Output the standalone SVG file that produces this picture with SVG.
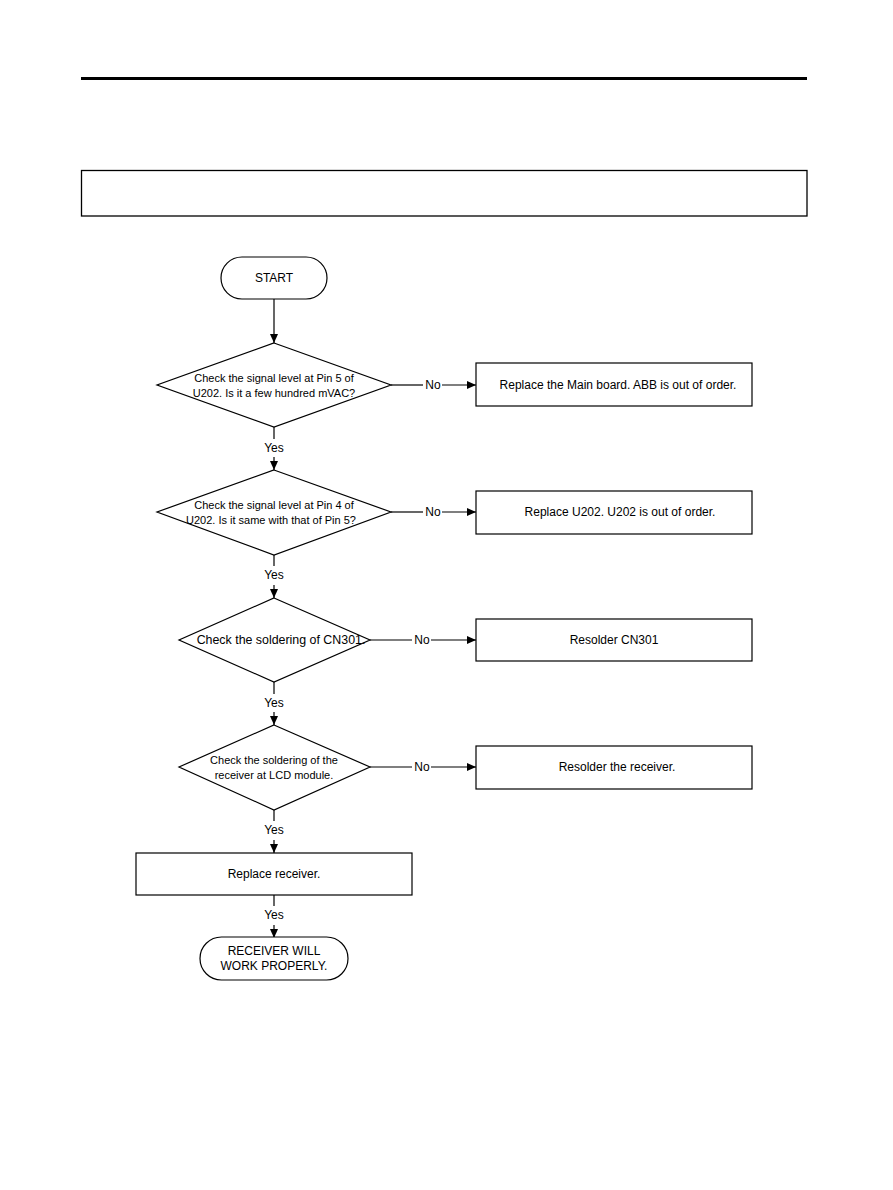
<svg xmlns="http://www.w3.org/2000/svg" width="893" height="1190" viewBox="0 0 893 1190">
<defs>
<style>
.s{fill:#fff;stroke:#000;stroke-width:1.2}
.c{fill:none;stroke:#000;stroke-width:1.2}
text{font-family:"Liberation Sans",Arial,sans-serif;fill:#000;text-anchor:middle}
.t{font-size:12px}
.d{font-size:11px}
.l{font-size:12px}
</style>
<marker id="a" markerWidth="10" markerHeight="10" refX="9" refY="5" orient="auto" markerUnits="userSpaceOnUse">
<path d="M0,1 L9,5 L0,9 Z" fill="#000"/>
</marker>
</defs>
<rect width="893" height="1190" fill="#fff"/>
<rect x="81" y="77" width="726" height="3" fill="#000"/>
<rect x="81.5" y="170.5" width="725.5" height="45.5" fill="none" stroke="#000" stroke-width="1.3"/>

<g id="connectors">
<line class="c" x1="274" y1="299" x2="274" y2="343" marker-end="url(#a)"/>
<line class="c" x1="391" y1="385" x2="423" y2="385"/>
<line class="c" x1="442" y1="385" x2="476" y2="385" marker-end="url(#a)"/>
<text class="l" x="433" y="389">No</text>
<line class="c" x1="274" y1="427" x2="274" y2="439"/>
<text class="l" x="274" y="452">Yes</text>
<line class="c" x1="274" y1="457" x2="274" y2="470" marker-end="url(#a)"/>

<line class="c" x1="391" y1="512" x2="423" y2="512"/>
<line class="c" x1="442" y1="512" x2="476" y2="512" marker-end="url(#a)"/>
<text class="l" x="433" y="516">No</text>
<line class="c" x1="274" y1="555" x2="274" y2="566"/>
<text class="l" x="274" y="579">Yes</text>
<line class="c" x1="274" y1="585" x2="274" y2="598" marker-end="url(#a)"/>

<line class="c" x1="370" y1="640" x2="412" y2="640"/>
<line class="c" x1="431" y1="640" x2="476" y2="640" marker-end="url(#a)"/>
<text class="l" x="422" y="644">No</text>
<line class="c" x1="274" y1="682" x2="274" y2="694"/>
<text class="l" x="274" y="707">Yes</text>
<line class="c" x1="274" y1="712" x2="274" y2="725" marker-end="url(#a)"/>

<line class="c" x1="370" y1="767" x2="412" y2="767"/>
<line class="c" x1="431" y1="767" x2="476" y2="767" marker-end="url(#a)"/>
<text class="l" x="422" y="771">No</text>
<line class="c" x1="274" y1="810" x2="274" y2="821"/>
<text class="l" x="274" y="834">Yes</text>
<line class="c" x1="274" y1="840" x2="274" y2="853" marker-end="url(#a)"/>

<line class="c" x1="274" y1="895" x2="274" y2="906"/>
<text class="l" x="274" y="919">Yes</text>
<line class="c" x1="274" y1="925" x2="274" y2="938" marker-end="url(#a)"/>
</g>

<g id="start">
<rect class="s" x="221" y="257" width="106" height="42" rx="21"/>
<text class="t" x="274" y="282">START</text>
</g>

<g id="d1">
<polygon class="s" points="274,343 391,385 274,427 157,385"/>
<text class="d" x="274" y="382">Check the signal level at Pin 5 of</text>
<text class="d" x="274" y="397">U202. Is it a few hundred mVAC?</text>
</g>
<g id="b1">
<rect class="s" x="476" y="363" width="276" height="43"/>
<text class="t" x="618" y="389">Replace the Main board. ABB is out of order.</text>
</g>

<g id="d2">
<polygon class="s" points="274,470 391,512 274,555 157,512"/>
<text class="d" x="274" y="509">Check the signal level at Pin 4 of</text>
<text class="d" x="271" y="524">U202. Is it same with that of Pin 5?</text>
</g>
<g id="b2">
<rect class="s" x="476" y="491" width="276" height="43"/>
<text class="t" x="620" y="516">Replace U202. U202 is out of order.</text>
</g>

<g id="d3">
<polygon class="s" points="274,598 370,640 274,682 179,640"/>
<text x="281" y="644" style="font-size:12.4px">Check the soldering of CN301.</text>
</g>
<g id="b3">
<rect class="s" x="476" y="619" width="276" height="42"/>
<text class="t" x="614" y="644">Resolder CN301</text>
</g>

<g id="d4">
<polygon class="s" points="274,725 370,767 274,810 179,767"/>
<text class="d" x="274" y="764">Check the soldering of the</text>
<text class="d" x="274" y="779">receiver at LCD module.</text>
</g>
<g id="b4">
<rect class="s" x="476" y="746" width="276" height="43"/>
<text class="t" x="617" y="771">Resolder the receiver.</text>
</g>

<g id="b5">
<rect class="s" x="136" y="853" width="276" height="42"/>
<text class="t" x="274" y="878">Replace receiver.</text>
</g>

<g id="end">
<rect class="s" x="200" y="937" width="148" height="43" rx="21.5"/>
<text class="t" x="274" y="955">RECEIVER WILL</text>
<text class="t" x="274" y="970">WORK PROPERLY.</text>
</g>
</svg>
